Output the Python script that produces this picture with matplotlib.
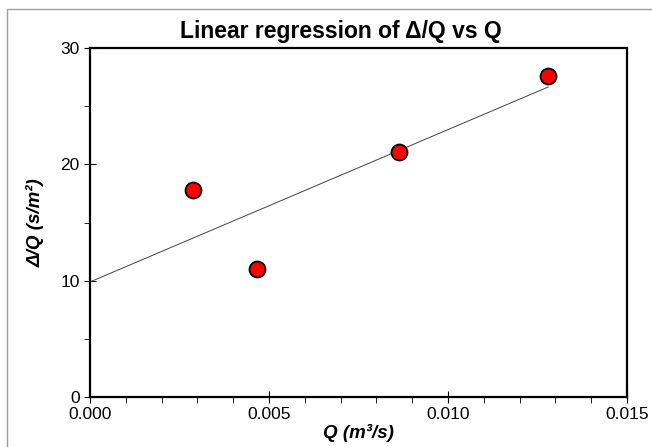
import numpy as np
import matplotlib.pyplot as plt
from matplotlib.ticker import MultipleLocator
from matplotlib.patches import Rectangle

plt.rcParams['font.family'] = ['Liberation Sans', 'DejaVu Sans']

# data
q = [0.00288, 0.00466, 0.00863, 0.0128]
dq = [17.8, 11.0, 21.1, 27.6]

slope, intercept = np.polyfit(q, dq, 1)
fit_x = np.array([0.0, max(q)])
fit_y = slope * fit_x + intercept

fig = plt.figure(figsize=(6.52, 4.47), dpi=100)
ax = fig.add_axes([90 / 652, 1 - 397 / 447, 537 / 652, 349 / 447])

# thin gray frame round the whole picture (top and left edges visible)
fig.patches.append(Rectangle((6.5 / 652, -0.01), 1.1, 1 - 8.5 / 447 + 0.01,
                             transform=fig.transFigure, fill=False,
                             edgecolor='#a0a0a0', linewidth=1.0))

ax.plot(fit_x, fit_y, color='#444444', linewidth=0.7, zorder=2)
ax.plot(q, dq, 'o', markersize=11.5, markerfacecolor='#ff0000',
        markeredgecolor='black', markeredgewidth=1.3, zorder=3)

ax.set_xlim(0, 0.015)
ax.set_ylim(0, 30)
ax.xaxis.set_major_locator(MultipleLocator(0.005))
ax.xaxis.set_minor_locator(MultipleLocator(0.001))
ax.yaxis.set_major_locator(MultipleLocator(10))
ax.yaxis.set_minor_locator(MultipleLocator(5))
ax.xaxis.set_major_formatter(plt.FuncFormatter(lambda v, p: f'{v:.3f}'))

ax.tick_params(which='major', direction='inout', length=8, width=0.8, labelsize=12.5)
ax.tick_params(which='minor', direction='out', length=4, width=0.6)
for s in ax.spines.values():
    s.set_linewidth(1.6)

ax.set_xlabel('Q (m³/s)', fontsize=13.5, fontweight='bold', style='italic', labelpad=1)
ax.set_ylabel('Δ/Q (s/m²)', fontsize=13.5, fontweight='bold', style='italic', labelpad=11)
ax.set_title('Linear regression of Δ/Q vs Q', fontsize=16.5, fontweight='bold', pad=7, x=0.467)

fig.savefig('out.png', dpi=100)
